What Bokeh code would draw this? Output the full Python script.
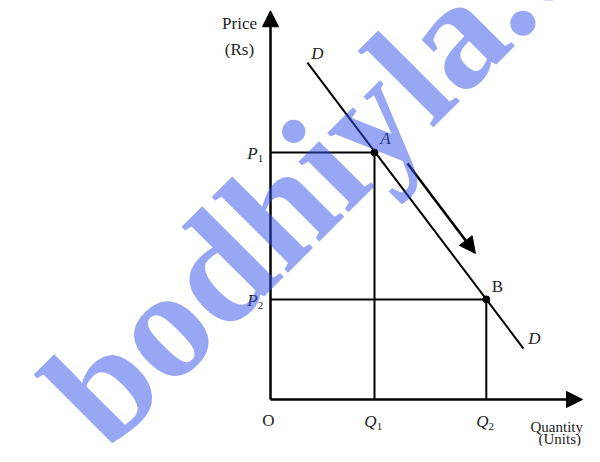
from bokeh.plotting import figure
from bokeh.models import Arrow, NormalHead, Label
from bokeh.core.properties import value
from bokeh.embed import file_html
from bokeh.resources import INLINE

# ---- data (economic units) ----
quantities = [4.0, 8.3]          # Q1, Q2
prices = [9.5, 3.85]             # P1, P2
point_names = ["A", "B"]
demand_q = [1.42, 9.73]          # demand curve D-D endpoints
demand_p = [12.96, 1.96]
move_q = [5.27, 7.88]            # movement-along-demand arrow
move_p = [9.08, 5.62]
axis_max_q = 12.0
axis_max_p = 14.95

SERIF = "Liberation Serif"
FS = "17px"
SUB = "11px"

p = figure(width=584, height=446, output_backend="svg", toolbar_location=None,
           x_range=(-10.385, 12.077), y_range=(-1.808, 15.346),
           min_border=0, outline_line_color=None, background_fill_color="white",
           border_fill_color="white")
p.axis.visible = False
p.grid.visible = False

# axes with arrow heads
p.add_layout(Arrow(end=NormalHead(size=16, fill_color="black", line_color="black"),
                   x_start=0, y_start=0, x_end=0, y_end=axis_max_p,
                   line_width=2.5, line_color="black"))
p.add_layout(Arrow(end=NormalHead(size=16, fill_color="black", line_color="black"),
                   x_start=0, y_start=0, x_end=axis_max_q, y_end=0,
                   line_width=2.5, line_color="black"))

# guide lines to the axes
for q, pr in zip(quantities, prices):
    p.line([0, q], [pr, pr], line_width=2, color="black")
    p.line([q, q], [0, pr], line_width=2, color="black")

# demand curve
p.line(demand_q, demand_p, line_width=2, color="black")

# points A, B
p.scatter(quantities, prices, size=7, color="black")

# movement arrow
p.add_layout(Arrow(end=NormalHead(size=16, fill_color="black", line_color="black"),
                   x_start=move_q[0], y_start=move_p[0], x_end=move_q[1], y_end=move_p[1],
                   line_width=2.5, line_color="black"))

def txt(x, y, t, dx, dy, size=FS, style="normal", align="center"):
    p.text([x], [y], text=[t], x_offset=dx, y_offset=dy, text_font=value(SERIF),
           text_font_size=size, text_font_style=style, text_align=align,
           text_baseline="middle", text_color="#222222")

# point labels
txt(quantities[0], prices[0], point_names[0], 11, -14, style="italic")
txt(quantities[1], prices[1], point_names[1], 11, -13)
# demand labels
txt(demand_q[0], demand_p[0], "D", 10, -9, style="italic")
txt(demand_q[1], demand_p[1], "D", 11, -10, style="italic")
# price labels
for i, pr in enumerate(prices):
    txt(0, pr, "P", -18, 1, style="italic")
    txt(0, pr, str(i + 1), -10, 6, size=SUB)
# quantity labels
for i, q in enumerate(quantities):
    txt(q, 0, "Q", -4, 22, style="italic")
    txt(q, 0, str(i + 1), 5, 27, size=SUB)
txt(0, 0, "O", -2, 21)
# axis titles
txt(0, axis_max_p, "Price", -31, 13)
txt(0, axis_max_p, "(Rs)", -31, 39)
txt(axis_max_q, 0, "Quantity", -52, 28, size="15px", align="left")
txt(axis_max_q, 0, "(Units)", -44, 40, size="15px", align="left")

# watermark
p.add_layout(Label(x=-7.654, y=-0.615, text="bodhiyla.com", angle=0.785,
                   text_font=SERIF, text_font_style="bold", text_font_size="155px",
                   text_color="#3050E8", text_alpha=0.5, text_baseline="alphabetic",
                   text_align="left"))

open("out.html", "w").write(file_html(p, INLINE))
